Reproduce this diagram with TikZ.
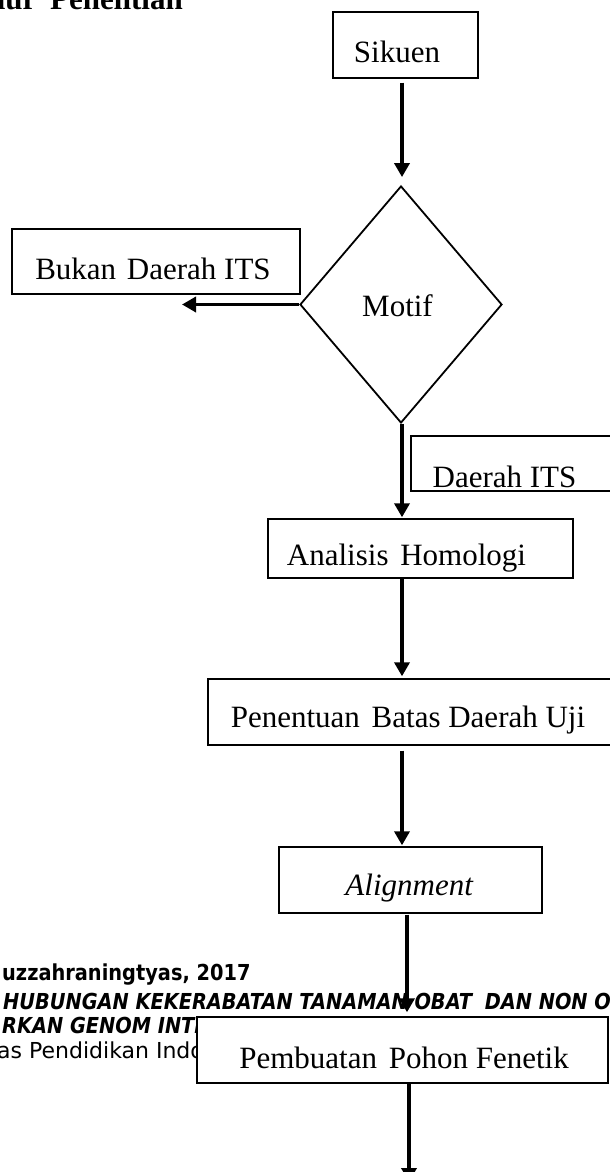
\documentclass[tikz,border=0pt]{standalone}
\usepackage{fontspec}
\setmainfont{Liberation Serif}
\newfontfamily\footb[FakeStretch=0.88]{DejaVu Sans}
\newfontfamily\footr{DejaVu Sans}
\usetikzlibrary{arrows.meta,shapes.geometric}
\begin{document}
\begin{tikzpicture}[x=1pt,y=-1pt,
  box/.style={draw, line width=1.4pt, fill=white, inner sep=0pt},
  lbl/.style={anchor=base, inner sep=0pt, font=\fontsize{31}{36}\selectfont},
  arr/.style={line width=3.6pt, -{Triangle[width=15pt,length=14pt]}},
  foot/.style={anchor=base west, inner sep=0pt}
  ]
\useasboundingbox (0,0) rectangle (610,1172);
\clip (0,0) rectangle (610,1172);

% heading (cropped at the top)
\node[anchor=base east, inner sep=0pt, font=\bfseries\fontsize{31}{36}\selectfont] (head) at (183,10) {Alur\hspace{6pt} Penelitian};

% footer text of the page
\node[foot, font=\footb\bfseries\fontsize{22}{25}\selectfont] (f1) at (2,980) {uzzahraningtyas, 2017};
\node[foot, font=\footb\bfseries\itshape\fontsize{22}{25}\selectfont] (f2) at (3,1009) {HUBUNGAN KEKERABATAN TANAMAN OBAT\hspace{6pt} DAN NON OBAT};
\node[foot, font=\footb\bfseries\itshape\fontsize{22}{25}\selectfont] (f3) at (2,1033) {RKAN GENOM INTI};
\node[foot, font=\footr\fontsize{22}{25}\selectfont] (f4) at (-3,1058) {as Pendidikan Indonesia};

% boxes
\node[box, minimum width=145pt, minimum height=66pt,
      label={[lbl, xshift=-8.5pt, yshift=-7pt]center:Sikuen}] (sik) at (405.5,45) {};
\node[box, minimum width=288pt, minimum height=65pt,
      label={[lbl, xshift=-3pt, yshift=-7.5pt]center:Bukan\hspace{3pt} Daerah ITS}] (bukan) at (156,261.5) {};
\node[draw, diamond, line width=1.8pt, fill=white, minimum width=202pt, minimum height=237pt, inner sep=0pt,
      label={[lbl, xshift=-3.5pt, yshift=-1.5pt]center:Motif}] (mot) at (401,304.5) {};
\node[box, minimum width=206pt, minimum height=55pt,
      label={[lbl, xshift=-9.5pt, yshift=-13.5pt]center:Daerah ITS}] (its) at (514,463.5) {};
\node[box, minimum width=305pt, minimum height=59pt,
      label={[lbl, xshift=-14pt, yshift=-9.5pt]center:Analisis\hspace{4pt} Homologi}] (ana) at (420.5,548.5) {};
\node[box, minimum width=410pt, minimum height=66pt,
      label={[lbl, xshift=-5pt, yshift=-8pt]center:Penentuan\hspace{4pt} Batas Daerah Uji}] (pen) at (413,712) {};
\node[box, minimum width=263pt, minimum height=66pt,
      label={[lbl, xshift=-1pt, yshift=-8pt]center:\textit{Alignment}}] (ali) at (410.5,880) {};
\node[box, minimum width=411pt, minimum height=66pt,
      label={[lbl, xshift=1.5pt, yshift=-8pt]center:Pembuatan\hspace{4pt} Pohon Fenetik}] (pem) at (402.5,1050) {};

% connectors
\coordinate (xa) at (402,0);
\coordinate (xb) at (407,0);
\coordinate (xc) at (409,0);
\coordinate (nb) at (182,0);
\coordinate (bottom) at (409,1182);

\draw[arr, shorten <=4pt, shorten >=8pt] (sik.south -| xa) -- (mot.north -| xa);
\draw[arr] (mot.west) -- (mot.west -| nb);
\draw[arr, shorten >=1pt] (mot.south -| xa) -- (ana.north -| xa);
\draw[arr, shorten >=2pt] (ana.south -| xa) -- (pen.north -| xa);
\draw[arr, shorten <=5pt, shorten >=1pt] (pen.south -| xa) -- (ali.north -| xa);
\draw[arr, shorten <=1pt, shorten >=4pt] (ali.south -| xb) -- (pem.north -| xb);
\draw[arr] (pem.south -| xc) -- (bottom);
\end{tikzpicture}
\end{document}
